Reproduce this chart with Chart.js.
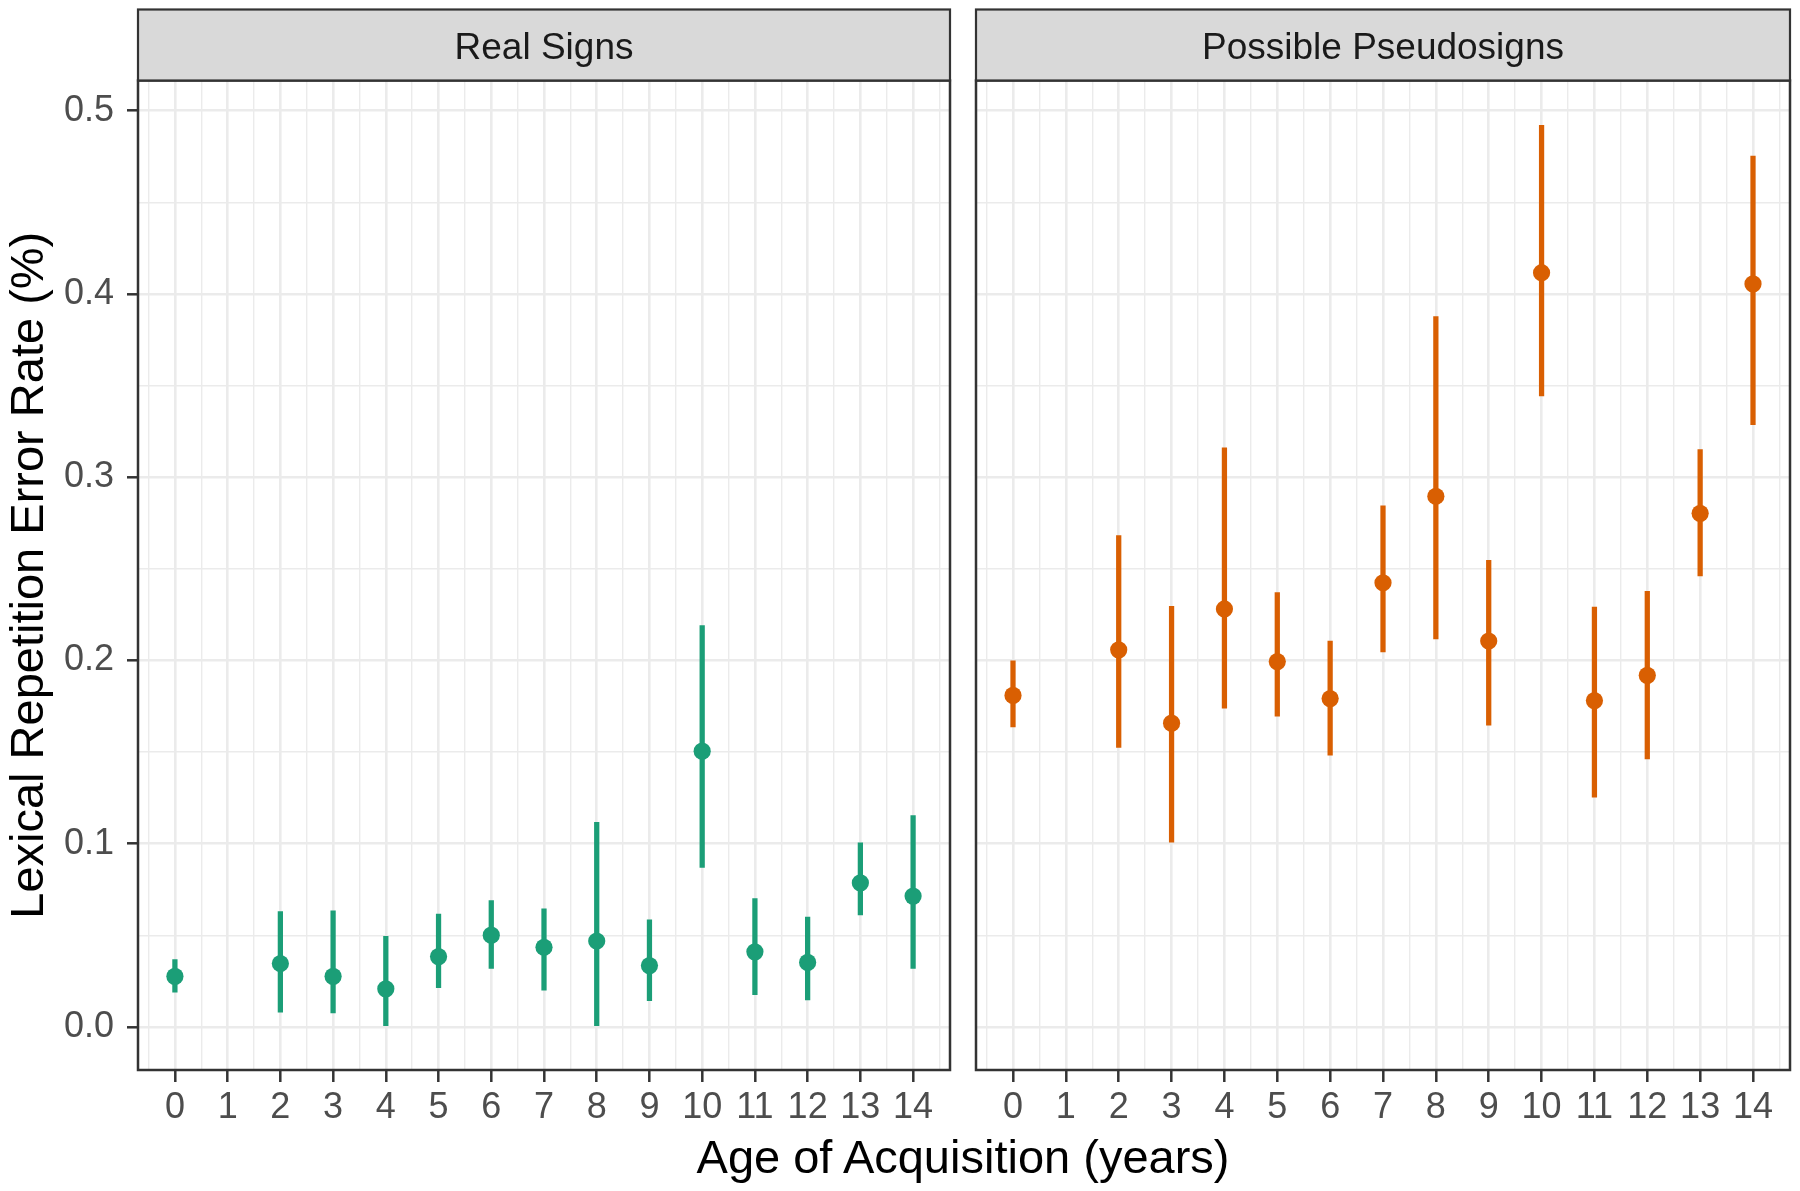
<!DOCTYPE html>
<html><head><meta charset="utf-8">
<script src="https://cdn.jsdelivr.net/npm/chart.js@4.4.1/dist/chart.umd.min.js"></script>
<style>
html,body{margin:0;padding:0;background:#fff;width:1800px;height:1191px;overflow:hidden;}
canvas{position:absolute;top:0;}
#c1{left:0;}
#c2{left:963px;}
#xtitle{position:absolute;left:963px;top:1133px;transform:translateX(-50%);font-family:"Liberation Sans",Arial,sans-serif;font-size:47px;line-height:47px;color:#000;white-space:nowrap;}
</style></head><body>
<canvas id="c1" width="963" height="1191"></canvas>
<canvas id="c2" width="837" height="1191"></canvas>
<div id="xtitle">Age of Acquisition (years)</div>
<script>
// ---- data ----
const panelTitles = ['Real Signs', 'Possible Pseudosigns'];
const xAxisTitle = 'Age of Acquisition (years)';
const yAxisTitle = 'Lexical Repetition Error Rate (%)';
const ages = [0, 2, 3, 4, 5, 6, 7, 8, 9, 10, 11, 12, 13, 14];

const realMean = [0.0276, 0.0346, 0.0276, 0.0208, 0.0384, 0.0501, 0.0435, 0.0469, 0.0335, 0.1505, 0.0410, 0.0352, 0.0786, 0.0714];
const realLow  = [0.0190, 0.0080, 0.0076, 0.0000, 0.0214, 0.0319, 0.0201, 0.0000, 0.0144, 0.0871, 0.0176, 0.0148, 0.0612, 0.0319];
const realHigh = [0.0367, 0.0629, 0.0633, 0.0495, 0.0616, 0.0690, 0.0644, 0.1116, 0.0584, 0.2191, 0.0701, 0.0599, 0.1005, 0.1154];

const pseudoMean = [0.1809, 0.2058, 0.1658, 0.2281, 0.1994, 0.1792, 0.2424, 0.2896, 0.2106, 0.4116, 0.1781, 0.1919, 0.2803, 0.4055];
const pseudoLow  = [0.1637, 0.1526, 0.1009, 0.1739, 0.1696, 0.1483, 0.2047, 0.2117, 0.1647, 0.3444, 0.1254, 0.1462, 0.2462, 0.3287];
const pseudoHigh = [0.1998, 0.2681, 0.2296, 0.3161, 0.2370, 0.2106, 0.2844, 0.3876, 0.2546, 0.4920, 0.2291, 0.2377, 0.3151, 0.4753];

const xMajorTicks = [0, 1, 2, 3, 4, 5, 6, 7, 8, 9, 10, 11, 12, 13, 14];
const xTickLabels = ['0', '1', '2', '3', '4', '5', '6', '7', '8', '9', '10', '11', '12', '13', '14'];
const xMinorTicks = [-0.5, 0.5, 1.5, 2.5, 3.5, 4.5, 5.5, 6.5, 7.5, 8.5, 9.5, 10.5, 11.5, 12.5, 13.5, 14.5];
const yMajorTicks = [0, 0.1, 0.2, 0.3, 0.4, 0.5];
const yTickLabels = ['0.0', '0.1', '0.2', '0.3', '0.4', '0.5'];
const yMinorTicks = [0.05, 0.15, 0.25, 0.35, 0.45];

// ---- styling ----
const FONT = '"Liberation Sans", Arial, sans-serif';
const GREEN = '#1B9E77';
const ORANGE = '#D95F02';

function findIdx(arr, v) { return arr.findIndex(m => Math.abs(m - v) < 1e-9); }
function isMajorX(v) { return findIdx(xMajorTicks, v) >= 0; }
function isMajorY(v) { return findIdx(yMajorTicks, v) >= 0; }

const stripPlugin = {
  id: 'strip',
  afterDraw(chart, args, opts) {
    const { ctx, chartArea: a } = chart;
    ctx.save();
    ctx.strokeStyle = '#333333';
    ctx.lineWidth = 2.5;
    ctx.strokeRect(a.left, a.top, a.right - a.left, a.bottom - a.top);
    const st = 9.5;
    ctx.fillStyle = '#D9D9D9';
    ctx.fillRect(a.left, st, a.right - a.left, a.top - st);
    ctx.lineWidth = 2.2;
    ctx.strokeRect(a.left, st, a.right - a.left, a.top - st);
    ctx.fillStyle = '#1A1A1A';
    ctx.font = '37px ' + FONT;
    ctx.textAlign = 'center';
    ctx.textBaseline = 'alphabetic';
    ctx.fillText(opts.text, (a.left + a.right) / 2, 58.5);
    ctx.restore();
  }
};

function makeChart(id, title, mean, low, high, color, isLeft) {
  return new Chart(document.getElementById(id), {
    type: 'bar',
    data: {
      datasets: [
        {
          type: 'bar',
          data: ages.map((a, i) => ({ x: a, y: [low[i], high[i]] })),
          backgroundColor: color, borderWidth: 0, barThickness: 4.6, order: 2
        },
        {
          type: 'scatter',
          data: ages.map((a, i) => ({ x: a, y: mean[i] })),
          backgroundColor: color, borderWidth: 0, pointRadius: 8.6, pointHoverRadius: 8.6, order: 1
        }
      ]
    },
    options: {
      responsive: false, animation: false, devicePixelRatio: 1,
      events: [],
      layout: { padding: isLeft ? { left: 0, top: 80.5, right: 13, bottom: 0 } : { left: 13, top: 80.5, right: 10, bottom: 0 } },
      plugins: { legend: { display: false }, tooltip: { enabled: false }, strip: { text: title } },
      scales: {
        x: {
          type: 'linear', min: -0.7, max: 14.7, offset: false,
          afterBuildTicks: s => { s.ticks = xMinorTicks.concat(xMajorTicks).sort((p, q) => p - q).map(v => ({ value: v })); },
          afterFit: s => { s.height = 121; },
          grid: {
            offset: false, color: '#EBEBEB',
            lineWidth: c => isMajorX(c.tick.value) ? 2.6 : 1.4,
            tickColor: c => isMajorX(c.tick.value) ? '#333333' : 'rgba(0,0,0,0)',
            tickLength: 12, tickWidth: 2.5
          },
          border: { display: false },
          ticks: {
            autoSkip: false, maxRotation: 0, minRotation: 0, padding: 4, color: '#4D4D4D',
            font: { family: FONT, size: 36 },
            callback: v => { const i = findIdx(xMajorTicks, v); return i >= 0 ? xTickLabels[i] : ''; }
          }
        },
        y: {
          type: 'linear', min: -0.0235, max: 0.5165,
          afterBuildTicks: s => { s.ticks = yMinorTicks.concat(yMajorTicks).sort((p, q) => p - q).map(v => ({ value: v })); },
          afterFit: s => { s.width = isLeft ? 138 : 0; },
          grid: {
            color: '#EBEBEB',
            lineWidth: c => isMajorY(c.tick.value) ? 2.6 : 1.4,
            drawTicks: isLeft, tickLength: 11, tickWidth: 2.5,
            tickColor: c => isMajorY(c.tick.value) ? '#333333' : 'rgba(0,0,0,0)'
          },
          border: { display: false },
          ticks: {
            display: isLeft, autoSkip: false, padding: 13, color: '#4D4D4D',
            font: { family: FONT, size: 36 },
            callback: v => { const i = findIdx(yMajorTicks, v); return i >= 0 ? yTickLabels[i] : ''; }
          },
          title: {
            display: isLeft, text: yAxisTitle, color: '#000000',
            font: { family: FONT, size: 47 }, padding: { top: 2, bottom: 0 }
          }
        }
      }
    },
    plugins: [stripPlugin]
  });
}

document.getElementById('xtitle').textContent = xAxisTitle;
makeChart('c1', panelTitles[0], realMean, realLow, realHigh, GREEN, true);
makeChart('c2', panelTitles[1], pseudoMean, pseudoLow, pseudoHigh, ORANGE, false);
</script>
</body></html>
